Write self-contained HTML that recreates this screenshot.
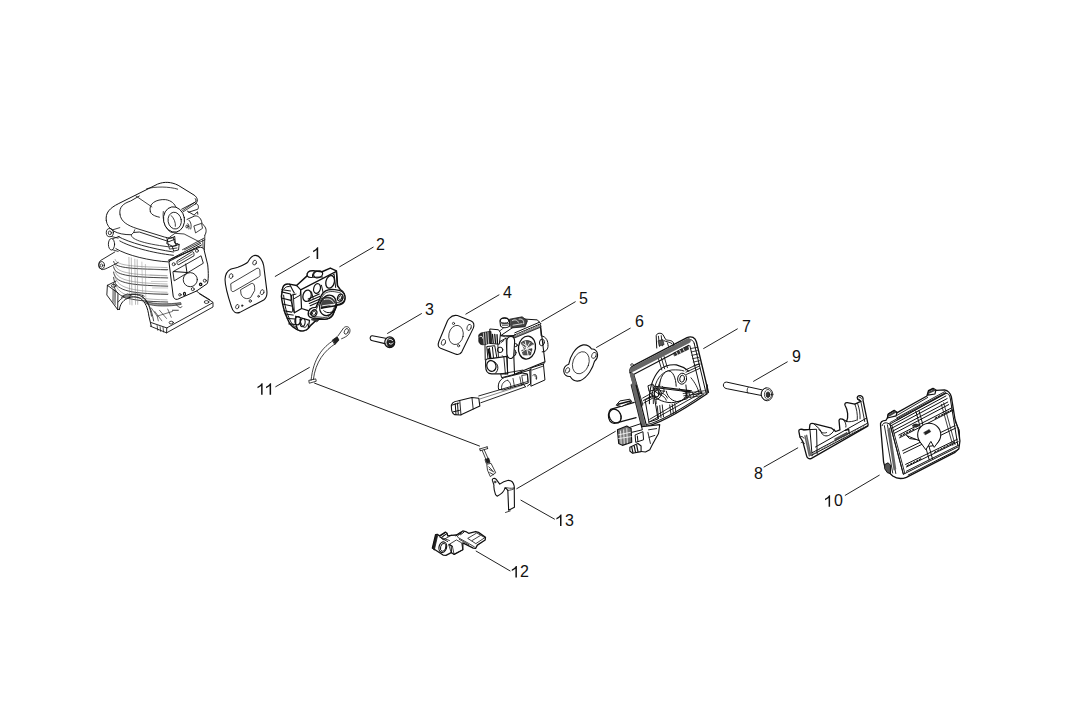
<!DOCTYPE html>
<html><head><meta charset="utf-8">
<style>
html,body{margin:0;padding:0;background:#fff;width:1068px;height:723px;overflow:hidden}
svg{position:absolute;left:0;top:0;display:block}
text{font-family:"Liberation Sans",sans-serif;font-size:16px;fill:#111}
.ld{stroke:#222;stroke-width:1;fill:none}
.p{fill:none;stroke:#111;stroke-width:0.8;stroke-linejoin:round;stroke-linecap:round}
.p *{vector-effect:non-scaling-stroke}
.w{fill:#fff}
</style></head><body>
<svg width="1068" height="723" viewBox="0 0 1068 723">
<!-- labels -->
<g id="labels">
<g fill="#111">
<path d="M318.2,247.2 L318.2,259.1 L316.6,259.1 L316.6,249.9 C315.6,250.9 314.3,251.7 313.1,252.2 L313.1,250.7 C314.9,249.8 316.4,248.5 317.2,247.2 Z"/><path d="M262.6,383.3 L262.6,394.8 L261.1,394.8 L261.1,386.0 C260.0,387.0 258.7,387.8 257.5,388.3 L257.5,386.8 C259.3,385.9 260.8,384.6 261.6,383.3 Z"/><path d="M271.1,383.3 L271.1,394.8 L269.6,394.8 L269.6,386.0 C268.5,387.0 267.2,387.8 266.0,388.3 L266.0,386.8 C267.8,385.9 269.3,384.6 270.1,383.3 Z"/><path d="M830.1,495.2 L830.1,506.8 L828.6,506.8 L828.6,497.9 C827.5,498.9 826.2,499.7 825.0,500.2 L825.0,498.7 C826.8,497.8 828.3,496.5 829.1,495.2 Z"/><path d="M516.9,566.0 L516.9,577.6 L515.4,577.6 L515.4,568.7 C514.3,569.7 513.0,570.5 511.8,571.0 L511.8,569.5 C513.6,568.6 515.1,567.3 515.9,566.0 Z"/><path d="M561.5,514.6 L561.5,526.0 L560.0,526.0 L560.0,517.3 C558.9,518.3 557.6,519.1 556.4,519.6 L556.4,518.1 C558.2,517.2 559.7,515.9 560.5,514.6 Z"/>
</g>
<text x="376" y="250">2</text>
<text x="425" y="315">3</text>
<text x="503" y="298">4</text>
<text x="579" y="304">5</text>
<text x="635" y="327">6</text>
<text x="742" y="332">7</text>
<text x="792" y="362">9</text>
<text x="754" y="479">8</text>
<text x="833.9" y="506">0</text>
<text x="519.9" y="577">2</text>
<text x="564.9" y="526">3</text>
</g>
<g id="leaders" class="ld">
<line x1="274.9" y1="276.6" x2="309.6" y2="256.5"/>
<line x1="339.4" y1="266.9" x2="373.5" y2="247"/>
<line x1="387.2" y1="333.6" x2="421.8" y2="313.4"/>
<line x1="465.5" y1="314.3" x2="499.3" y2="294.7"/>
<line x1="541.3" y1="321.5" x2="575.6" y2="301.6"/>
<line x1="596.2" y1="347.6" x2="630.6" y2="328"/>
<line x1="703.3" y1="348.7" x2="737.7" y2="328.7"/>
<line x1="753.2" y1="381.5" x2="787.6" y2="361.7"/>
<line x1="763.7" y1="467.2" x2="798.1" y2="447.7"/>
<line x1="844.9" y1="495.5" x2="879.6" y2="475"/>
<line x1="275.4" y1="386.9" x2="309.7" y2="367.3"/>
<line x1="475.8" y1="550.9" x2="510.4" y2="571.1"/>
<line x1="520.6" y1="500" x2="554.8" y2="519.3"/>
<line x1="314.2" y1="383" x2="479.9" y2="446.2"/>
<line x1="516.4" y1="488.9" x2="615.7" y2="431.2"/>
</g>
<!-- PARTS -->
<!-- Air filter base 7 (upper, zoom A) -->
<g class="p" transform="translate(600,325) scale(0.11236)">
<!-- pin at top -->
<path d="M505,205 L500,95 C505,72 540,65 560,85 L585,130 C600,140 640,130 655,160 L652,200" class="w" stroke-width="1"/>
<path d="M520,100 L530,190 M545,95 L555,185 M570,140 C590,150 620,150 640,165 M600,160 L610,190" stroke-width="0.9"/>
<path d="M520,140 L560,130 L570,175 L530,185 Z" fill="#555" stroke-width="0.6"/>
<!-- outer frame -->
<path d="M268,425 C258,395 275,372 310,355 L775,112 C815,95 848,112 858,150 L965,600" stroke-width="1.4"/>
<path d="M282,428 C276,405 290,390 318,375 L780,135 C808,122 830,135 838,162" stroke-width="1"/>
<path d="M298,440 L790,182 M300,440 L380,712" stroke-width="1.2"/>
<path d="M270,425 L350,712" stroke-width="1.4"/>
<path d="M290,395 L785,140" stroke-width="5" stroke="#666"/>
<path d="M283,440 L362,712" stroke-width="4" stroke="#666"/>
<path d="M838,162 L945,610 M800,185 L905,615" stroke-width="1"/>
<path d="M805,210 L860,200 M812,240 L866,228 M818,270 L873,258 M824,300 L880,288 M830,330 L886,318 M836,360 L892,348" stroke-width="0.8"/>
<!-- logo -->
<path d="M655,250 L780,185 L790,215 L665,275 Z" fill="#333" stroke-width="0.5"/>
<path d="M680,240 L690,262 M710,225 L720,248 M740,210 L750,232" stroke="#fff" stroke-width="0.8"/>
<!-- vertical bars from pin -->
<path d="M520,300 L550,400 M545,290 L575,390 M570,280 L600,380" stroke-width="0.9"/>
<!-- hub ring -->
<path d="M440,700 C435,600 460,480 530,400 C570,365 620,350 680,355 C720,365 760,385 790,410" stroke-width="1.1"/>
<path d="M475,700 C470,600 490,500 540,450 C570,420 600,405 640,400 C690,398 720,400 747,409" stroke-width="0.9"/>
<path d="M500,700 C495,620 510,530 555,475" stroke-width="0.8"/>
<path d="M530,545 C532,460 575,409 612,409 C650,412 675,470 678,545" class="w" stroke-width="1"/>
<path d="M490,545 L814,586 M500,558 L805,596" stroke-width="1.1"/>
<path d="M590,590 C600,645 650,684 700,682 C745,677 772,628 775,598" stroke-width="1"/>
<path d="M540,600 C560,610 590,620 600,650 M545,625 C565,635 585,650 590,670" stroke-width="0.9"/>
<path d="M740,610 L930,585 M745,630 L935,605 M750,650 L900,630" stroke-width="0.8"/>
<path d="M760,600 L775,650 M790,598 L805,645 M820,594 L835,640" stroke-width="0.8"/>
<ellipse cx="731" cy="478" rx="40" ry="49" transform="rotate(10 731 478)" class="w" stroke-width="1"/>
<ellipse cx="731" cy="478" rx="21" ry="31" transform="rotate(10 731 478)" stroke-width="1"/>
<ellipse cx="504" cy="613" rx="40" ry="49" transform="rotate(10 504 613)" class="w" stroke-width="1"/>
<ellipse cx="504" cy="613" rx="21" ry="31" transform="rotate(10 504 613)" stroke-width="1"/>
<!-- crossbars -->
<path d="M760,400 L880,345 M765,420 L885,365 M770,440 L890,385" stroke-width="0.9"/>
<path d="M380,650 L470,600 M385,672 L470,625 M390,695 L470,650" stroke-width="0.9"/>
<path d="M430,540 L470,525 L475,580 L440,590 Z" stroke-width="1"/>
<path d="M810,470 C850,520 870,560 880,600 M840,620 L900,600" stroke-width="0.9"/>
<path d="M275,360 C270,340 290,340 300,355" stroke-width="1"/>
</g>
<!-- Air filter base 7 (lower, zoom B) -->
<g class="p" transform="translate(600,385) scale(0.12448)">
<path d="M252,0 L335,335" stroke-width="1.4"/>
<path d="M268,0 L350,325" stroke-width="4" stroke="#666"/>
<path d="M290,0 L372,322" stroke-width="1.2"/>
<path d="M340,338 C420,330 580,260 860,70 L860,0" stroke-width="1.4"/>
<path d="M375,318 C460,300 600,230 830,75" stroke-width="1.1"/>
<path d="M390,300 L820,60 M400,275 L800,40" stroke-width="0.9"/>
<path d="M365,118 L435,87 L466,273 L396,297 Z" stroke-width="1"/>
<path d="M460,170 L470,270 M480,165 L490,262 M500,160 L510,255 M560,160 L570,235 M580,155 L590,228 M600,150 L610,222" stroke-width="0.9"/>
<path d="M400,60 C450,120 530,150 600,140 L700,110 M430,0 C440,30 480,50 520,50 M690,0 L700,100 M640,30 C660,50 680,60 720,50" stroke-width="1"/>
<path d="M430,20 C440,60 470,80 500,70 M500,70 C520,60 520,20 500,10" stroke-width="0.9"/>
<ellipse cx="455" cy="65" rx="20" ry="30" stroke-width="1"/>
<!-- lower housing -->
<path d="M335,335 L480,318 L470,390 L420,480 L400,520 L365,538 L300,530" class="w" stroke-width="1.1"/>
<path d="M390,360 L455,350 M395,420 L440,405 M385,380 L405,470" stroke-width="0.9"/>
<!-- tube at left -->
<path d="M275,140 L85,196 C65,215 60,260 80,290 C95,310 120,312 132,304 L290,262" class="w" stroke-width="1.2"/>
<ellipse cx="122" cy="250" rx="46" ry="58" transform="rotate(-30 122 250)" stroke-width="1.2"/>
<path d="M150,212 C175,235 172,290 148,305" stroke-width="0.9"/>
<path d="M132,160 L160,128 L240,114 L256,135 L175,172 Z" class="w" stroke-width="1"/>
<path d="M145,155 L245,128" stroke-width="1.5"/>
<!-- connector -->
<path d="M140,360 L215,330 L250,350 L255,460 L180,485 L150,470 Z" fill="#777" stroke-width="1.1"/>
<path d="M165,370 L170,470 M190,360 L195,470 M215,350 L220,465 M150,400 L245,380 M150,430 L250,415" stroke="#fff" stroke-width="0.8"/>
<path d="M240,340 L330,310 L340,360 L255,380" stroke-width="1"/>
<!-- pins -->
<path d="M285,400 L345,375 L350,440 L290,460 Z M300,410 L305,455" class="w" stroke-width="1"/>
<path d="M240,500 L305,470 L330,490 L330,535 L260,548 L240,530 Z" class="w" stroke-width="1.1"/>
<path d="M255,500 L265,545 M275,492 L285,540 M295,485 L305,535" stroke-width="1.2"/>
</g>
<!-- Part 8 -->
<g class="p" transform="translate(790,385) scale(0.11068)">
<path d="M80,420 C75,400 100,395 130,405 L175,400 L180,358 C185,345 200,345 215,350 L376,390 L413,420 L451,405 L443,322 C445,305 460,303 478,310 L511,330 C530,290 522,225 498,185 C490,168 500,158 518,160 L586,172 L640,148 L612,128 C600,112 612,94 636,96 C655,100 663,118 660,140 L706,360 L702,372 L190,665 C170,670 155,660 150,640 L115,510 L90,470 Z" class="w" stroke-width="1.3"/>
<path d="M230,560 L690,300" stroke-width="1"/>
<path d="M200,612 L695,348 M195,635 L700,368" stroke-width="1"/>
<path d="M210,625 L220,605 M235,612 L245,592 M260,598 L270,578 M285,585 L295,565 M310,571 L320,551 M335,558 L345,538 M360,544 L370,524 M385,531 L395,511 M410,517 L420,497 M435,504 L445,484 M460,490 L470,470 M485,477 L495,457 M510,463 L520,443 M535,450 L545,430 M560,436 L570,416 M585,423 L595,403 M610,409 L620,389 M635,396 L645,376 M660,382 L670,362" stroke-width="0.7" stroke="#555"/>
<path d="M120,405 L240,400 L245,620 M180,400 L200,640" stroke-width="1"/>
<path d="M135,460 L175,640 M150,455 L188,635" stroke-width="1.5" stroke="#666"/>
<path d="M90,470 C100,460 120,465 125,480 M100,520 C110,510 125,515 130,530" stroke-width="0.9"/>
<path d="M405,485 L515,428 L522,445 L412,500 Z" fill="#555" stroke-width="0.5"/>
<path d="M500,410 L530,400 L535,440" stroke-width="1.3"/>
<path d="M215,350 C240,380 270,390 280,420 C290,460 330,470 360,450 C390,430 400,410 400,400" stroke-width="1"/>
<path d="M260,400 C280,430 300,440 330,430" stroke-width="0.9"/>




<path d="M586,172 C600,210 612,260 608,318 M611,168 C626,210 636,260 633,305 M640,148 L675,330" stroke-width="0.9"/>
<path d="M511,330 C540,335 570,330 600,318 M478,310 C500,325 510,360 505,380" stroke-width="0.9"/>
<path d="M612,128 C625,125 640,135 640,148 M625,110 C635,108 645,115 645,125" stroke-width="0.9"/>
</g>
<!-- Part 10 -->
<g class="p" transform="translate(876,380) scale(0.15203)">
<path d="M30,300 C25,280 40,265 65,265 L75,250 L80,225 L120,200 L140,215 L335,105 L345,70 L375,55 L398,68 L450,65 C480,70 490,90 496,112 L520,260 L540,320 L552,400 L545,452 L520,476 L200,640 C170,652 140,652 110,632 L72,595 C60,575 52,555 50,540 Z" class="w" stroke-width="1.3"/>
<path d="M75,250 L82,222 L120,200 L138,214 L132,236 Z M340,100 L347,72 L375,57 L393,70 L388,92 Z" stroke-width="1.2"/>
<path d="M88,232 L125,212 M352,82 L385,66" stroke-width="2" stroke="#444"/>
<path d="M60,555 L80,545 L95,560 L95,615 L75,610 L58,585 Z" fill="#555" stroke-width="1"/>
<path d="M40,300 C45,285 55,280 70,282 L92,290 L455,88 C475,85 485,100 488,118 L538,430" stroke-width="1"/>
<path d="M55,300 L110,612 M75,295 L130,615 M92,292 L180,620 M105,300 L190,615" stroke-width="0.9"/>
<path d="M80,330 L120,590 M88,320 L128,585" stroke-width="1.6" stroke="#666"/>
<path d="M92,290 L180,620 L540,440" stroke-width="1"/>
<path d="M100,300 L460,105 M102,318 L468,122" stroke-width="1"/>
<path d="M112,335 L472,145 M118,352 L478,162" stroke-width="1"/>
<path d="M150,362 L500,182 M155,380 L505,200" stroke-width="1"/>
<path d="M160,369 L170,362 M180,359 L190,352 M200,349 L210,342 M220,339 L230,332 M240,329 L250,322 M390,252 L400,245 M410,242 L420,235 M430,232 L440,225 M450,222 L460,215 M470,212 L480,205 M490,202 L500,195" stroke-width="1.1"/>
<path d="M175,465 L520,300 M180,482 L525,316" stroke-width="1"/>
<path d="M195,555 L535,390 M200,572 L540,406" stroke-width="1"/>
<path d="M205,565 L215,558 M225,555 L235,548 M245,545 L255,538 M265,535 L275,528 M285,525 L295,518 M385,476 L395,469 M405,466 L415,459 M425,456 L435,449 M445,446 L455,439 M465,436 L475,429 M485,426 L495,419 M505,416 L515,409" stroke-width="1.1"/>
<path d="M200,600 L545,428 M212,625 L545,455" stroke-width="1"/>
<path d="M262,205 L350,525 M282,200 L372,520" stroke-width="1"/>
<path d="M430,160 L505,430 M445,150 L520,425" stroke-width="0.8"/>
<path d="M520,270 L548,330 L550,380" stroke-width="1"/>
<circle cx="350" cy="360" r="76" class="w" stroke-width="1.1"/>
<path d="M315,345 L350,325 L360,340 L325,360 Z" fill="#222" stroke-width="0.5"/>
<path d="M284,399 L328,459 L361,404 L383,443 L415,399" class="w" stroke-width="1"/>
<path d="M202,366 L284,399 M202,366 L220,385 L270,392" stroke-width="1"/>
<path d="M240,300 C255,285 275,288 285,300 L265,310 Z" fill="#333" stroke-width="0.8"/>
<path d="M132,236 L340,115 M135,250 L455,75 M92,280 L460,82 M140,262 L458,90" stroke-width="0.9"/>
</g>


<!-- Carb 5 -->
<g class="p" transform="translate(440,310) scale(0.15209)">
<!-- bottom plate & right block -->
<path d="M400,425 L405,445 L540,410 L590,395 L680,355 L690,345" stroke-width="1"/>
<path d="M590,395 L595,485 L575,500 M600,380 L680,355 L690,460 L600,500 Z" class="w" stroke-width="1"/>
<path d="M605,395 L675,370 M610,430 C625,415 640,425 635,455 M622,432 C630,428 635,440 632,452" stroke-width="0.8"/>
<!-- curved pipe & linkage -->
<path d="M385,520 C375,480 400,445 440,440 L540,415 L575,420 L580,480 L470,510 L420,525 Z" class="w" stroke-width="1"/>
<path d="M405,520 C400,490 420,465 445,462 M445,462 C460,470 470,490 465,515 M480,450 L490,505 M525,440 L535,495" stroke-width="0.8"/>
<path d="M540,430 L575,425 L578,470 L548,478 Z" stroke-width="0.8"/>
<!-- rod -->
<path d="M255,565 L545,480 M268,610 L562,505 M545,480 L562,505" stroke-width="0.9"/>
<path d="M262,585 L550,492" stroke-width="0.5"/>
<!-- connector -->
<path d="M75,640 C70,615 90,600 115,598 L210,575 L255,580 L262,632 L135,690 L95,688 C80,680 75,660 75,640 Z" class="w" stroke-width="1.1"/>
<path d="M130,595 L138,690 M210,575 L218,650" stroke-width="0.9"/>
<path d="M80,625 L125,612 M85,670 L128,660 M100,615 L105,685 M115,612 L120,685" stroke-width="1"/>
<!-- main front face -->
<path d="M480,168 L625,104 L660,95 L690,340 L490,422 Z" class="w" stroke-width="1.1"/>
<path d="M660,95 L665,170 C700,175 712,205 710,240 C708,265 690,275 672,275" stroke-width="1"/>
<ellipse cx="670" cy="213" rx="16" ry="22" transform="rotate(10 670 213)" stroke-width="1"/>
<ellipse cx="572" cy="247" rx="56" ry="76" transform="rotate(8 572 247)" stroke-width="1.3"/>
<path d="M535,215 C560,190 600,200 615,225 L560,260 Z M540,265 L605,255 L595,295 L550,295 Z" fill="#555" stroke-width="0.7"/>
<path d="M540,235 L600,275 M560,205 L580,300 M530,280 L610,230 M545,220 L575,240 M590,215 L570,250" stroke="#fff" stroke-width="0.9"/>
<circle cx="498" cy="231" r="10" stroke-width="1"/>
<ellipse cx="484" cy="281" rx="16" ry="22" stroke-width="1"/>
<!-- top face -->
<path d="M400,168 L560,60 L640,65 L665,92 L484,168 Z" class="w" stroke-width="1"/>
<path d="M484,168 L660,92 M492,150 L655,80" stroke-width="1"/>
<path d="M486,166 L660,94 L664,112 L492,183 Z" fill="#777" stroke-width="0.8"/>
<path d="M500,168 L508,156 M515,162 L523,150 M530,156 L538,144 M545,150 L553,138 M560,144 L568,132 M575,138 L583,126 M590,131 L598,119 M605,125 L613,113 M620,119 L628,107 M635,113 L643,101 M650,107 L658,95" stroke="#fff" stroke-width="0.6"/>
<path d="M400,168 L430,177 L484,168 M400,168 L390,140 L440,100"/>
<!-- top screws -->
<path d="M395,80 C390,58 410,50 428,52 C450,54 460,68 456,88 L456,108 C440,120 410,120 398,105 Z" class="w" stroke-width="1.1"/>
<ellipse cx="425" cy="70" rx="28" ry="16" stroke-width="1"/>
<path d="M405,90 L450,90 M410,100 L445,100" stroke-width="0.8"/>
<path d="M460,60 L540,45 L575,70 L560,110 L470,118 Z" fill="#444" stroke-width="0.8"/>
<path d="M475,70 C490,60 510,65 515,80 M520,60 C540,55 555,70 550,90 M480,100 L540,90" stroke="#fff" stroke-width="0.8"/>
<!-- boss left of front face -->
<path d="M440,200 C440,180 460,170 475,175 C490,180 492,200 490,220 L485,300 C480,320 460,325 448,312 L438,290 Z" class="w" stroke-width="1.1"/>
<!-- left block -->
<path d="M298,205 L380,215 L435,185 L440,300 L430,330 L300,330 Z" class="w" stroke-width="1"/>
<path d="M310,240 L360,235 L375,320 L318,322 Z M325,250 L335,315 M345,245 L352,318" stroke-width="1"/>
<path d="M318,260 L330,315" stroke-width="2"/>
<circle cx="395" cy="262" r="18" stroke-width="1"/>
<path d="M380,215 L385,330 M410,300 L430,320 M400,215 L420,200" stroke-width="0.9"/>
<!-- adjuster screw -->
<path d="M330,125 L385,130 L398,150 L390,225 L330,220 Z" class="w" stroke-width="1"/>
<path d="M345,160 L350,215 M360,160 L365,218 M375,162 L378,220" stroke-width="1.3"/>
<path d="M255,178 C250,160 265,150 285,148 L335,140 L340,215 L290,228 C265,232 252,215 255,195 Z" fill="#2a2a2a" stroke-width="0.8"/>
<path d="M300,150 L305,222 M315,146 L320,220 M285,152 L290,224" stroke="#fff" stroke-width="0.7"/>
<path d="M262,175 C272,168 282,175 280,185" stroke="#fff" stroke-width="0.9"/>
<!-- fuel inlet -->
<path d="M300,335 C300,322 315,318 330,320 L440,305 L445,420 L340,420 C315,420 300,400 300,370 Z" class="w" stroke-width="1.1"/>
<ellipse cx="338" cy="368" rx="30" ry="36" transform="rotate(-15 338 368)" stroke-width="1.2"/>
<path d="M355,340 C385,350 390,395 365,415 M440,305 L445,420" stroke-width="1"/>
<path d="M420,310 L430,420 M400,420 L545,395" stroke-width="0.9"/>
</g>

<!-- Cylinder -->
<g class="p" stroke="#3a3a3a" transform="translate(96,175) scale(0.2281)">
<!-- shroud -->
<path d="M45,200 C40,165 60,145 100,125 L270,40 C300,28 330,30 360,45 L430,88 C448,100 448,118 435,128" class="w" stroke-width="1"/>
<path d="M45,200 C50,240 90,262 155,262 L165,252 L190,250 L320,292 L345,282" stroke-width="0.9"/>
<path d="M222,60 C260,50 320,50 358,62" stroke-width="0.8"/>
<path d="M175,92 L245,140" stroke-width="0.8"/>
<path d="M105,172 C100,140 120,125 152,114 L190,92 M105,172 C108,205 140,222 180,235 L300,272 C320,278 335,276 345,270" stroke-width="0.9"/>
<path d="M155,262 C150,280 200,300 320,315 L350,310 M165,252 L170,240" stroke-width="0.8"/>
<path d="M310,275 L318,310 M345,270 L350,310 M350,310 L357,300 M320,315 L322,325 L355,320" stroke-width="0.8"/>
<path d="M238,160 C228,125 265,105 305,108 C330,112 345,125 352,145 M238,160 C240,172 255,180 278,185" stroke-width="0.9"/>
<path d="M295,160 C290,200 305,240 330,252 L355,250" stroke-width="0.8"/>
<ellipse cx="342" cy="195" rx="46" ry="56" transform="rotate(-10 342 195)" class="w" stroke-width="1"/>
<ellipse cx="345" cy="200" rx="29" ry="37" transform="rotate(-10 345 200)" stroke-width="0.9"/>
<path d="M330,178 C342,190 350,208 348,225" stroke-width="0.8"/>




</g>
<!-- Cylinder lower -->
<g class="p" stroke="#4a4a4a" transform="translate(96,255) scale(0.11759)">
<path d="M150,55 C158,108 260,117 610,125" stroke-width="0.8"/>
<path d="M162,37 C172,86 270,97 605,107" stroke-width="0.55" stroke="#777"/>
<path d="M150,100 C158,171 260,187 610,195" stroke-width="0.8"/>
<path d="M162,82 C172,148 270,167 605,177" stroke-width="0.55" stroke="#777"/>
<path d="M150,145 C158,235 260,257 610,265" stroke-width="0.8"/>
<path d="M162,127 C172,211 270,237 605,247" stroke-width="0.55" stroke="#777"/>
<path d="M150,190 C158,299 260,327 610,335" stroke-width="0.8"/>
<path d="M162,172 C172,274 270,307 605,317" stroke-width="0.55" stroke="#777"/>
<path d="M150,240 C158,360 260,392 610,400" stroke-width="0.8"/>
<path d="M162,222 C172,334 270,372 605,382" stroke-width="0.55" stroke="#777"/>
<path d="M420,395 C500,420 620,420 720,405 L725,420 C620,440 500,440 430,415 Z" fill="#999" stroke-width="0.6"/>
<path d="M450,120 L600,130 M460,170 L600,175 M470,225 L605,225 M480,280 L610,280 M490,330 L615,330" stroke-width="0.45" stroke="#888"/>
<path d="M280,20 L288,420 M300,25 L306,425 M330,35 L336,420 M350,40 L355,420" stroke-width="0.5" stroke="#777"/>
<path d="M390,60 L398,400 M420,80 L424,390" stroke-width="0.45" stroke="#888"/>
<path d="M97,258 L170,222 M97,258 L92,340 L184,464 M97,258 L187,323 L184,464 M184,464 L200,462" stroke-width="0.9"/>
<path d="M145,290 L143,395 M155,297 L153,410 M165,305 L163,425" stroke-width="0.6"/>
<ellipse cx="150" cy="262" rx="20" ry="12" stroke-width="0.8"/>
<path d="M200,462 C205,380 300,330 380,370 C420,400 440,450 450,520 L470,605" stroke-width="1"/>
<path d="M188,400 C230,340 330,310 400,360 C440,395 462,450 472,520 M215,360 C260,330 350,320 410,350 M395,355 C440,390 470,450 490,560" stroke-width="0.8"/>
<path d="M230,345 L270,330 L300,345 L260,372 Z" fill="#888" stroke-width="0.6"/>
<path d="M462,605 L600,662 L995,442 L995,402 L880,330 M600,662 L602,620 L990,408 M470,575 L602,620" stroke-width="0.9"/>
<path d="M520,600 L525,640 M545,610 L550,650 M570,615 L575,655" stroke-width="0.7"/>
<ellipse cx="940" cy="400" rx="20" ry="12" stroke-width="0.8"/>
<ellipse cx="640" cy="575" rx="18" ry="12" stroke-width="0.8"/>
<path d="M470,450 L520,520 L650,480 M500,480 L560,560 M540,470 L600,540 M610,460 L640,530 M520,520 L530,560" stroke-width="0.6"/>
<path d="M680,420 C700,440 720,460 730,440 M650,470 L700,470" stroke-width="0.8"/>
</g>
<!-- Cylinder mid -->
<g class="p" stroke="#3a3a3a" transform="translate(96,200) scale(0.11062)">
<ellipse cx="125" cy="295" rx="32" ry="37" stroke-width="0.9"/>
<ellipse cx="125" cy="297" rx="14" ry="17" stroke-width="0.8"/>
<path d="M150,270 L215,250 M140,330 L200,345" stroke-width="0.8"/>
<path d="M200,330 C300,385 500,440 700,470 M215,370 C300,420 500,478 700,500 M180,440 C280,500 480,550 660,560" stroke-width="0.9"/>
<ellipse cx="140" cy="400" rx="28" ry="52" stroke-width="0.9"/>
<path d="M150,350 L210,330 M150,450 L200,465" stroke-width="0.8"/>
<path d="M170,470 L45,545 C20,560 20,605 45,625 C60,635 80,630 200,565" stroke-width="0.9"/>
<ellipse cx="50" cy="590" rx="26" ry="33" stroke-width="0.9"/>
<ellipse cx="50" cy="592" rx="11" ry="14" stroke-width="0.7"/>
<path d="M640,390 L650,350 L700,340 L712,390 L752,402 L746,452 L702,462 L690,420 Z M690,420 L752,402" stroke-width="0.9"/>
</g>
<!-- Cylinder right side -->
<g class="p" stroke="#3a3a3a" transform="translate(170,190) scale(0.08296)">
<path d="M305,105 C318,125 315,140 300,148 L140,232" stroke-width="0.9"/>
<path d="M300,148 L150,250 M310,165 L160,262" stroke-width="0.8"/>
<path d="M310,160 C340,170 352,200 335,232 L225,268 M210,255 L290,302 L332,262 L335,292" stroke-width="0.9"/>
<path d="M205,355 L300,312 C345,310 378,345 385,400 L412,432 C442,462 442,512 420,545" stroke-width="0.9"/>
<path d="M292,432 L380,402 L392,462 L312,515 Z M230,365 C255,390 262,430 250,470 M215,405 C230,420 235,450 228,470" stroke-width="0.8"/>
<ellipse cx="205" cy="440" rx="14" ry="18" stroke-width="0.8"/>
<path d="M0,565 L60,522 L170,530 L355,625 M150,720 L410,580 M175,720 L420,600 M420,545 L415,720 M395,600 L400,720" stroke-width="0.8"/>
</g>
<!-- Cylinder intake plate -->
<g class="p" stroke="#333" transform="translate(160,240) scale(0.08299)">
<path d="M110,270 C115,240 135,225 165,215 L470,90 C500,80 520,95 530,115 L575,300 C585,400 585,480 570,525 L440,615 L210,715 C180,720 165,700 160,680 Z" class="w" stroke-width="1"/>
<path d="M100,245 L490,40 M115,255 L500,60" stroke-width="0.9"/>
<path d="M120,250 L130,238 M160,230 L170,218 M200,210 L210,198 M240,190 L250,178 M280,170 L290,158 M320,150 L330,138 M360,130 L370,118 M400,110 L410,98 M440,90 L450,78" stroke-width="0.8"/>
<path d="M208,252 L385,142 C400,135 410,150 410,175 L410,190 L228,296 C212,300 205,290 205,275 Z" stroke-width="0.9"/>
<path d="M225,265 L390,170" stroke-width="0.7"/>
<path d="M160,380 L495,190 L522,280 L175,490 Z" stroke-width="0.9"/>
<path d="M310,290 L325,392 M165,380 L330,392" stroke-width="1"/>
<circle cx="365" cy="478" r="85" stroke-width="0.9"/>
<circle cx="165" cy="292" r="18"/><circle cx="445" cy="130" r="18"/><circle cx="540" cy="490" r="18"/>
<circle cx="490" cy="535" r="14" stroke-width="1.3"/><circle cx="395" cy="592" r="18"/><circle cx="240" cy="660" r="15"/>
<ellipse cx="295" cy="650" rx="12" ry="18" stroke-width="1.2"/>
<path d="M440,615 L470,640 L600,720" stroke-width="0.9"/>
</g>

<!-- Manifold 2 -->
<g class="p" transform="translate(275,262) scale(0.11065)">
<path d="M70,232 C80,205 100,195 130,200 L195,212 L290,125 C285,95 305,78 345,80 L425,88 L500,55 L555,80 L565,215 L590,250 C625,265 640,310 628,352 C618,378 590,388 560,388 L522,478 C505,508 475,520 430,516 L380,520 L320,575 C300,610 270,625 230,622 L190,605 C150,580 130,555 125,540 L90,460 C75,410 62,360 58,310 Z" stroke-width="1.5"/>
<path d="M195,212 L232,252 L555,85 M232,252 L240,420 L175,459 M565,215 L555,85 M240,420 L300,440" stroke-width="1.2"/>
<path d="M232,252 L228,300 L175,330" stroke-width="1"/>
<path d="M290,125 C300,138 320,142 340,138 L430,135 M340,138 C335,110 350,85 380,82" stroke-width="1.1"/>
<ellipse cx="390" cy="112" rx="42" ry="30" transform="rotate(-20 390 112)" stroke-width="1.2"/>
<path d="M66,328 L144,347 L175,459 M81,440 L150,453 M125,559 L187,565 M60,270 L140,290 L150,340 M130,200 C150,230 160,260 175,280" stroke-width="1.1"/>
<path d="M144,347 L150,300 L190,290" stroke-width="1"/>
<ellipse cx="290" cy="305" rx="37" ry="52" transform="rotate(15 290 305)" stroke-width="1.3"/>
<ellipse cx="380" cy="240" rx="30" ry="45" transform="rotate(15 380 240)" stroke-width="1.2"/>
<ellipse cx="498" cy="180" rx="38" ry="58" transform="rotate(15 498 180)" stroke-width="1.3"/>
<path d="M330,270 L345,330 M420,210 L440,300 M520,120 L535,110 M535,115 L548,230" stroke-width="1"/>
<path d="M300,470 C300,430 330,410 370,410 L420,300 C440,262 480,242 540,250 L580,256 C620,262 640,300 630,340 C620,370 590,382 560,386 L520,480 C500,510 470,520 430,515 L370,510 C330,510 300,500 300,470 Z" class="w" stroke-width="1.4"/>
<path d="M318,468 C320,440 345,428 372,430 L430,310 C445,278 485,262 535,268 L575,275 C605,280 618,310 612,335 C605,360 585,366 555,368 L508,470 C492,498 468,505 430,500 L370,495 C340,495 318,490 318,468 Z" stroke-width="0.8"/>
<ellipse cx="353" cy="462" rx="25" ry="30" transform="rotate(20 353 462)" stroke-width="1.2"/>
<ellipse cx="353" cy="462" rx="14" ry="18" transform="rotate(20 353 462)" stroke-width="0.9"/>
<ellipse cx="590" cy="322" rx="24" ry="32" transform="rotate(20 590 322)" stroke-width="1.2"/>
<ellipse cx="590" cy="322" rx="13" ry="18" transform="rotate(20 590 322)" stroke-width="0.9"/>
<ellipse cx="478" cy="392" rx="72" ry="95" transform="rotate(22 478 392)" stroke-width="1.3"/>
<path d="M430,330 C470,300 530,320 545,370 L420,420 Z" fill="#444" stroke-width="0.8"/>
<path d="M445,340 C480,325 515,340 530,365 M430,395 L540,380" stroke="#fff" stroke-width="0.9"/>
<path d="M420,415 L548,395" stroke-width="1.5"/>
<path d="M440,440 C470,470 520,460 540,430" stroke-width="1"/>
<path d="M300,335 L400,290 M305,355 L408,310 M310,375 L405,335 M318,395 L395,362" stroke-width="1.1"/>
<path d="M187,490 L312,528 L300,600 C280,625 230,630 206,612 L187,560 Z" class="w" stroke-width="1.2"/>
<ellipse cx="205" cy="530" rx="25" ry="38" transform="rotate(10 205 530)" stroke-width="1.1"/>
<ellipse cx="250" cy="548" rx="22" ry="38" transform="rotate(10 250 548)" stroke-width="1.1"/>
<path d="M225,520 C240,600 280,610 295,560" stroke-width="1"/>
<path d="M330,520 L360,505 L400,520 L380,540 Z" fill="#333" stroke-width="0.6"/>
<path d="M85,240 C95,225 110,220 130,222 M78,300 C82,360 95,420 110,465 L140,535 C150,555 170,580 195,592" stroke-width="1"/>
<path d="M62,250 L140,262 M70,380 L150,398 M95,470 L165,480 M110,510 L180,515" stroke-width="1"/>
<path d="M150,300 L160,450 M165,290 L175,455" stroke-width="0.9"/>
</g>


<!-- Gasket 1 -->
<g class="p" transform="translate(215,245) scale(0.10367)">
<path d="M150,235 C120,250 100,285 97,330 C95,390 120,480 160,600 C172,645 200,665 240,650 L470,530 C500,510 505,480 500,440 L470,200 C460,150 430,100 390,100 C360,100 340,120 320,160 C300,185 260,200 220,215 C190,225 170,225 150,235 Z" stroke-width="1.1"/>
<path d="M155,372 L405,225 C425,218 432,235 433,250 L435,292 C435,300 430,305 420,310 L180,448 C165,452 158,445 156,435 Z"/>
<path d="M250,430 L350,372 C378,362 385,395 382,440 L345,505 C310,530 265,515 252,475 Z"/>
<ellipse cx="155" cy="300" rx="17" ry="24" transform="rotate(20 155 300)"/>
<ellipse cx="382" cy="170" rx="17" ry="24" transform="rotate(20 382 170)"/>
<ellipse cx="215" cy="595" rx="15" ry="22" transform="rotate(20 215 595)"/>
<ellipse cx="262" cy="585" rx="6" ry="9"/>
<ellipse cx="455" cy="455" rx="17" ry="25" transform="rotate(20 455 455)"/>
<ellipse cx="420" cy="495" rx="8" ry="9"/>
<ellipse cx="340" cy="540" rx="11" ry="13"/>
</g>
<!-- Gasket 4 -->
<g class="p" transform="translate(428,308) scale(0.07189)">
<path d="M300,140 C330,105 360,95 410,105 L600,180 C640,200 645,240 630,280 L470,610 C450,645 420,655 380,640 L175,560 C140,545 135,510 150,470 L270,180 C280,160 290,150 300,140 Z" stroke-width="1.1"/>
<ellipse cx="390" cy="375" rx="100" ry="135" transform="rotate(12 390 375)"/>
<ellipse cx="572" cy="270" rx="28" ry="45" transform="rotate(20 572 270)"/>
<ellipse cx="215" cy="478" rx="28" ry="42" transform="rotate(20 215 478)"/>
<circle cx="355" cy="215" r="15"/>
<circle cx="425" cy="525" r="15"/>
</g>
<!-- Gasket 6 -->
<g class="p" transform="translate(555,335) scale(0.07607)">
<path d="M180,385 C200,280 260,160 370,130 C420,125 460,150 480,185 C520,180 560,210 560,260 C560,300 540,330 520,345 C500,430 430,560 330,600 C280,615 230,595 200,545 C160,550 120,530 115,480 C112,440 140,400 180,385 Z" stroke-width="1.1"/>
<ellipse cx="340" cy="365" rx="105" ry="150" transform="rotate(20 340 365)"/>
<ellipse cx="512" cy="268" rx="28" ry="42" transform="rotate(25 512 268)"/>
<ellipse cx="165" cy="465" rx="25" ry="38" transform="rotate(25 165 465)"/>
</g>
<!-- Screw 3 -->
<g class="p" transform="translate(366,328) scale(0.0332)">
<path d="M590,310 L190,232 C140,228 118,280 128,330 C138,370 160,385 200,385 L570,470" stroke-width="1.1"/>
<ellipse cx="715" cy="430" rx="150" ry="160" stroke-width="1.2"/>
<ellipse cx="745" cy="440" rx="115" ry="140" fill="#222"/>
<path d="M690,350 C720,330 780,340 800,380" stroke="#fff" stroke-width="1"/>
<path d="M700,470 C730,500 790,490 810,450" stroke="#fff" stroke-width="1"/>
</g>
<!-- Bolt 9 -->
<g class="p" transform="translate(718,376) scale(0.05805)">
<path d="M765,240 L150,105 C100,100 85,150 95,175 C105,205 130,215 160,220 L745,335" stroke-width="1"/>
<path d="M520,195 C495,220 495,270 515,295"/>
<ellipse cx="845" cy="315" rx="100" ry="112"/>
<path d="M830,205 C770,220 740,270 745,320 C750,370 780,410 840,425"/>
<ellipse cx="862" cy="318" rx="62" ry="85"/>
<ellipse cx="862" cy="322" rx="32" ry="48" fill="#333"/>
</g>
<!-- Part 13 + wire end -->
<g class="p" transform="translate(474,440) scale(0.10504)">
<path d="M55,85 L125,65 M60,102 L130,82 M55,85 L60,102 M125,65 L130,82"/>
<path d="M78,100 L115,188 M98,95 L137,183"/>
<path d="M108,185 L140,173 L152,212 L120,222 Z" fill="#222"/>
<path d="M125,230 L162,222 L207,312 L155,348 L130,290 Z"/>
<path d="M140,255 L175,290 M145,280 L190,305 M150,310 L185,330"/>
<path d="M175,385 C170,365 195,360 210,372 L245,420 C265,405 290,390 320,385 C350,382 375,400 383,440 L385,640 L330,668 L322,480 C315,470 305,460 295,455 C290,490 270,510 220,535 L205,520 C195,490 185,460 190,430 Z" stroke-width="1.1"/>
<path d="M295,455 C305,445 340,470 385,455 M322,480 C345,478 370,472 385,462"/>
<ellipse cx="200" cy="400" rx="8" ry="10"/>
<path d="M300,690 L345,675"/>
</g>
<!-- Wire 11 -->
<g class="p" transform="translate(304,322) scale(0.09403)">
<path d="M310,198 C200,270 100,380 75,620 M332,232 C222,302 122,420 100,610"/>
<path d="M55,620 L125,605 L130,630 L60,650 Z"/>
<path d="M303,192 L352,157 L372,192 L330,238 Z" fill="#222"/>
<path d="M360,150 L420,65 C440,40 482,45 488,80 C495,120 470,150 400,178"/>
<ellipse cx="450" cy="100" rx="20" ry="32" transform="rotate(25 450 100)"/>
</g>
<!-- Part 12 -->
<g class="p" transform="translate(428,526) scale(0.05805)">
<path d="M75,380 L130,150 L160,145 L200,170 L300,105 L330,130 L340,170 L400,160 L490,155 L600,85 L650,95 L700,125 L820,95 L870,110 L990,195 L985,240 L850,330 L820,385 L780,380 L600,290 L600,410 L450,490 L420,470 L400,460 L310,505 L260,500 Z" stroke-width="1.3"/>
<path d="M80,380 L135,160 L165,165 L110,410 Z" fill="#222"/>
<ellipse cx="255" cy="365" rx="65" ry="92" transform="rotate(15 255 365)" stroke-width="1.2"/>
<path d="M360,320 L490,240 L580,290 L600,410 L450,490 L420,350 Z M420,350 L360,320 M400,460 L360,330"/>
<path d="M200,170 L260,240 L400,160 M330,130 L250,190 M230,200 L370,250"/>
<path d="M490,155 L520,200 L700,300 L800,360 M540,230 L700,320"/>
<path d="M690,210 L840,120 L980,200 L830,300 Z M760,250 L900,165"/>
<ellipse cx="262" cy="368" rx="45" ry="70" transform="rotate(15 262 368)" stroke-width="1"/>
<path d="M370,320 C390,310 400,330 400,360 L405,460 M480,170 L540,125 M520,160 L580,115 M560,150 L620,105" stroke-width="1"/>
<path d="M230,160 L290,120 M240,185 L310,140 M200,190 L340,270" stroke-width="0.9"/>
</g>

</svg>
</body></html>
